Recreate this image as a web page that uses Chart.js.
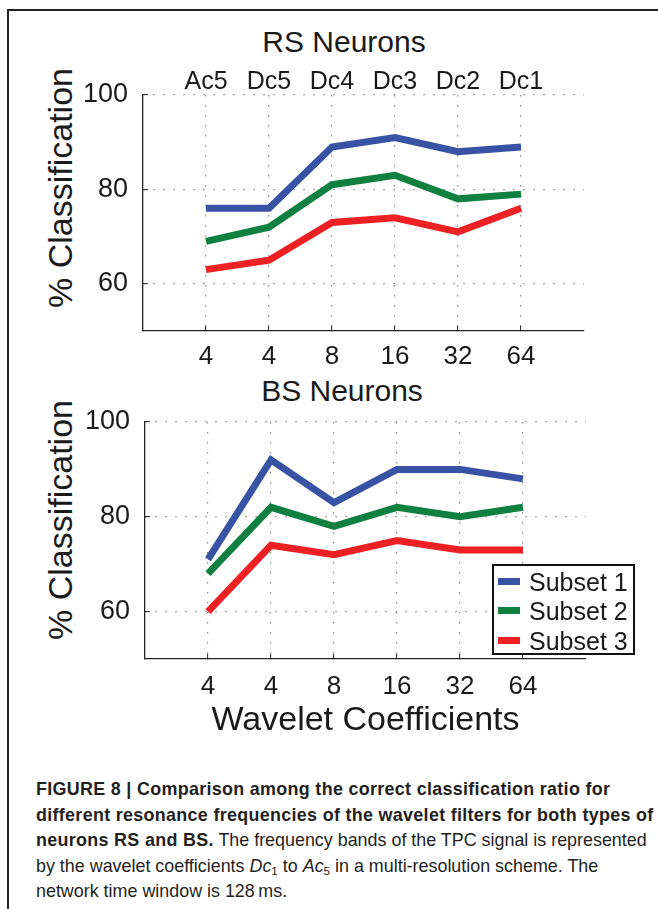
<!DOCTYPE html>
<html>
<head>
<meta charset="utf-8">
<script src="https://cdn.jsdelivr.net/npm/chart.js@4.4.1/dist/chart.umd.min.js"></script>
<style>
    html, body {
        margin: 0;
        padding: 0;
        background: #fff;
        overflow: hidden;
    }
    body {
        position: relative;
        width: 658px;
        height: 909px;
        font-family: "Liberation Sans", Arial, sans-serif;
        color: #1a1a1a;
    }
    .abs {
        position: absolute;
    }
    #frameTop {
        left: 7px;
        top: 9px;
        width: 651px;
        height: 1.5px;
        background: #222;
    }
    #frameLeft {
        left: 7px;
        top: 9px;
        width: 1.5px;
        height: 900px;
        background: #222;
    }
    .panel-title {
        font-size: 30px;
        line-height: 30px;
        white-space: nowrap;
        transform: translateX(-50%);
    }
    .ylabel {
        font-size: 34px;
        line-height: 34px;
        white-space: nowrap;
        transform: translate(-50%, -50%) rotate(-90deg);
    }
    #legend {
        left: 492px;
        top: 564px;
        width: 139px;
        height: 87px;
        border: 2px solid #111;
        background: #fff;
    }
    .legend-row {
        position: absolute;
        left: 0;
        height: 30px;
        font-size: 25px;
        line-height: 30px;
        white-space: nowrap;
    }
    .legend-swatch {
        position: absolute;
        left: 4px;
        top: 11px;
        width: 22px;
        height: 7px;
    }
    .legend-text {
        position: absolute;
        left: 35px;
        top: 0;
    }
    #caption {
        left: 36px;
        top: 777px;
        font-size: 17.9px;
        line-height: 25.5px;
        white-space: nowrap;
        color: #231f20;
    }
    #caption b {
        letter-spacing: 0.32px;
    }
    #caption sub {
        font-size: 0.65em;
        line-height: 0;
        vertical-align: -0.25em;
    }
</style>
</head>
<body>
<div id="frameTop" class="abs"></div>
<div id="frameLeft" class="abs"></div>

<div class="abs panel-title" style="left:344px; top:27px;">RS Neurons</div>
<div class="abs panel-title" style="left:342px; top:376px;">BS Neurons</div>
<div class="abs ylabel" style="left:60px; top:188px;">% Classification</div>
<div class="abs ylabel" style="left:60px; top:520px;">% Classification</div>

<canvas id="rsChart" class="abs" width="658" height="400" style="left:0; top:0;"></canvas>
<canvas id="bsChart" class="abs" width="658" height="360" style="left:0; top:400px;"></canvas>

<div id="legend" class="abs"></div>

<div id="caption" class="abs"><b>FIGURE 8 | Comparison among the correct classification ratio for<br>different resonance frequencies of the wavelet filters for both types of<br>neurons RS and BS.</b> The frequency bands of the TPC signal is represented<br>by the wavelet coefficients <i>Dc</i><sub>1</sub> to <i>Ac</i><sub>5</sub> in a multi-resolution scheme. The<br>network time window is 128&thinsp;ms.</div>

<script>
// Data
const bandLabels = ["Ac5", "Dc5", "Dc4", "Dc3", "Dc2", "Dc1"];
const coeffCounts = ["4", "4", "8", "16", "32", "64"];
const yTicks = [60, 80, 100];

const rsSubset1 = [76, 76, 89, 91, 88, 89];
const rsSubset2 = [69, 72, 81, 83, 78, 79];
const rsSubset3 = [63, 65, 73, 74, 71, 76];

const bsSubset1 = [71, 92, 83, 90, 90, 88];
const bsSubset2 = [68, 82, 78, 82, 80, 82];
const bsSubset3 = [60, 74, 72, 75, 73, 73];

const seriesNames = ["Subset 1", "Subset 2", "Subset 3"];
const seriesColors = ["#3953a4", "#0f803f", "#ed2024"];

Chart.defaults.font.family = '"Liberation Sans", Arial, sans-serif';
Chart.defaults.color = "#1a1a1a";

const textColor = "#1a1a1a";
const gridColor = "#8a8a8a";
const axisColor = "#222";

function buildDatasets(seriesValues) {
    return seriesValues.map((values, k) => ({
        label: seriesNames[k],
        data: values.map((v, i) => ({ x: i, y: v })),
        borderColor: seriesColors[k],
        backgroundColor: seriesColors[k],
        borderWidth: 7,
        pointRadius: 0,
        fill: false,
        tension: 0,
        borderCapStyle: "butt",
        borderJoinStyle: "miter",
    }));
}

function categoryTicks(scale) {
    scale.ticks = bandLabels.map((_, i) => ({ value: i }));
}

function bottomAxis(height, labelPadding, withTitle) {
    return {
        type: "linear",
        position: "bottom",
        min: -1,
        max: 6,
        afterBuildTicks: categoryTicks,
        afterFit: (scale) => {
            scale.height = height;
        },
        grid: {
            color: gridColor,
            lineWidth: 1.2,
            tickLength: -5,
            tickColor: axisColor,
            tickWidth: 1,
        },
        border: {
            display: true,
            color: axisColor,
            width: 1.3,
            dash: [1.5, 8.5],
        },
        ticks: {
            autoSkip: false,
            maxRotation: 0,
            padding: labelPadding,
            color: textColor,
            font: { size: 26, lineHeight: 1 },
            callback: (value, index) => coeffCounts[index],
        },
        title: {
            display: withTitle,
            text: "Wavelet Coefficients",
            color: textColor,
            font: { size: 34, lineHeight: 1 },
            padding: { top: 0, bottom: 22 },
        },
    };
}

function leftAxis(width) {
    return {
        type: "linear",
        position: "left",
        min: 50,
        max: 100,
        afterBuildTicks: (scale) => {
            scale.ticks = yTicks.map((v) => ({ value: v }));
        },
        afterFit: (scale) => {
            // fixed axis width, and no extra top/bottom room for the labels
            scale.width = width;
            scale.paddingTop = 0;
            scale.paddingBottom = 0;
        },
        grid: {
            color: gridColor,
            lineWidth: 1.2,
            tickLength: -5,
            tickColor: axisColor,
            tickWidth: 1,
        },
        border: {
            display: true,
            color: axisColor,
            width: 1.3,
            dash: [1.5, 8.5],
        },
        ticks: {
            padding: 20,
            color: textColor,
            font: { size: 27, lineHeight: 1 },
        },
    };
}

const commonPlugins = {
    legend: { display: false },
    tooltip: { enabled: false },
    title: { display: false },
};

// RS Neurons
new Chart(document.getElementById("rsChart"), {
    type: "line",
    data: {
        datasets: buildDatasets([rsSubset1, rsSubset2, rsSubset3]),
    },
    options: {
        responsive: false,
        animation: false,
        layout: { padding: { top: 0, right: 74, bottom: 0, left: 0 } },
        plugins: commonPlugins,
        scales: {
            x: bottomAxis(69, 18, false),
            x2: {
                type: "linear",
                position: "top",
                min: -1,
                max: 6,
                afterBuildTicks: categoryTicks,
                afterFit: (scale) => {
                    scale.height = 95;
                },
                grid: { display: false, drawTicks: false },
                border: { display: false },
                ticks: {
                    autoSkip: false,
                    maxRotation: 0,
                    padding: 0,
                    color: textColor,
                    font: { size: 25, lineHeight: 1 },
                    callback: (value, index) => bandLabels[index],
                },
            },
            y: leftAxis(143),
        },
    },
});

// BS Neurons
new Chart(document.getElementById("bsChart"), {
    type: "line",
    data: {
        datasets: buildDatasets([bsSubset1, bsSubset2, bsSubset3]),
    },
    options: {
        responsive: false,
        animation: false,
        layout: { padding: { top: 22, right: 72, bottom: 0, left: 0 } },
        plugins: commonPlugins,
        scales: {
            x: bottomAxis(101, 20, true),
            y: leftAxis(145),
        },
    },
});

// Legend box
const legend = document.getElementById("legend");
seriesNames.forEach((name, k) => {
    const row = document.createElement("div");
    row.className = "legend-row";
    row.style.top = 0.5 + k * 29.5 + "px";
    row.innerHTML =
        '<span class="legend-swatch" style="background:' + seriesColors[k] + '"></span>' +
        '<span class="legend-text">' + name + "</span>";
    legend.appendChild(row);
});
</script>
</body>
</html>
